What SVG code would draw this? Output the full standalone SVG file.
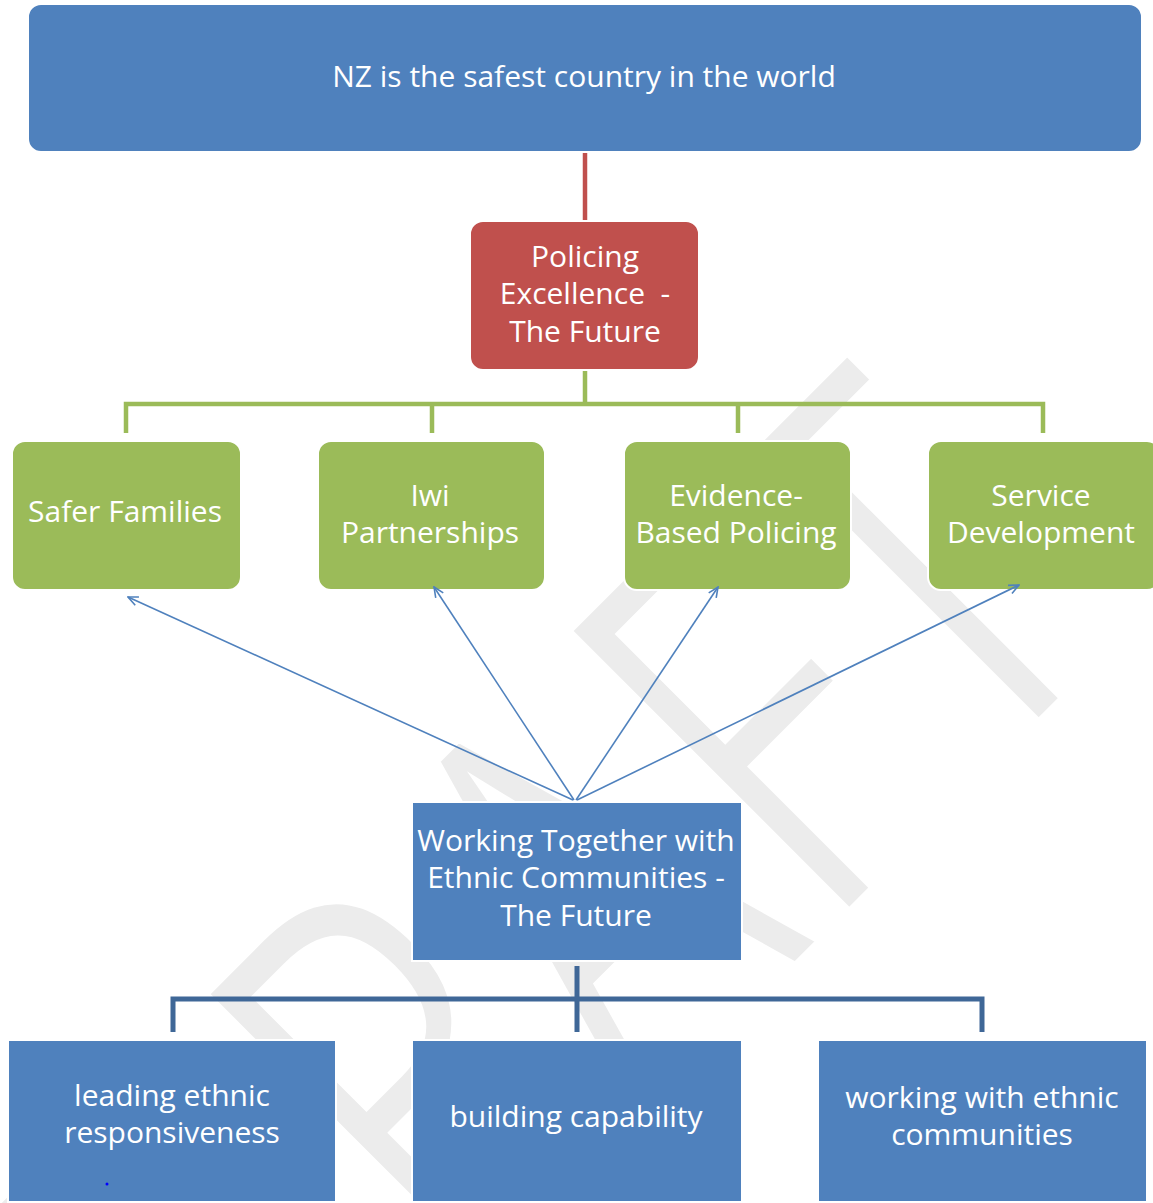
<svg xmlns="http://www.w3.org/2000/svg" width="1153" height="1203" viewBox="0 0 1153 1203">
  <style>
    .lbl { font-family: "Open Sans", "Liberation Sans", sans-serif; font-size: 30px; fill: #ffffff; text-anchor: middle; }
    .blue { fill: #4f81bd; stroke: #ffffff; stroke-width: 2; }
    .red { fill: #c0504d; stroke: #ffffff; stroke-width: 2; }
    .green { fill: #9bbb59; stroke: #ffffff; stroke-width: 2; }
    .arrow { stroke: #4f81bd; stroke-width: 1.6; fill: none; marker-end: url(#ah); }
    .wm { font-family: "Open Sans", "Liberation Sans", sans-serif; font-size: 560px; fill: #ececec; stroke: #ffffff; stroke-width: 10; }
  </style>
  <defs>
    <marker id="ah" markerUnits="userSpaceOnUse" markerWidth="12" markerHeight="12" viewBox="0 0 12 12" refX="11" refY="6" orient="auto">
      <path d="M1,1.5 L11,6 L1,10.5" fill="none" stroke="#4f81bd" stroke-width="1.6"/>
    </marker>
  </defs>
  <rect width="1153" height="1203" fill="#ffffff"/>

  <g id="watermark">
    <text class="wm" transform="translate(248,1515) rotate(-45)" x="0" y="0" textLength="1250" lengthAdjust="spacingAndGlyphs">DRAFT</text>
  </g>

  <g id="node-top">
    <rect class="blue" x="28" y="4" width="1114" height="148" rx="13"/>
    <text class="lbl" x="584" y="87">NZ is the safest country in the world</text>
  </g>

  <g id="node-policing">
    <rect class="red" x="470" y="221" width="229" height="149" rx="13"/>
    <text class="lbl" x="585" y="267">Policing</text>
    <text class="lbl" x="585" y="304" xml:space="preserve">Excellence  -</text>
    <text class="lbl" x="585" y="342">The Future</text>
  </g>

  <g id="node-safer">
    <rect class="green" x="12" y="441" width="229" height="149" rx="13"/>
    <text class="lbl" x="125" y="522">Safer Families</text>
  </g>

  <g id="node-iwi">
    <rect class="green" x="318" y="441" width="227" height="149" rx="13"/>
    <text class="lbl" x="430" y="506">Iwi</text>
    <text class="lbl" x="430" y="543">Partnerships</text>
  </g>

  <g id="node-evidence">
    <rect class="green" x="624" y="441" width="227" height="149" rx="13"/>
    <text class="lbl" x="736" y="506">Evidence-</text>
    <text class="lbl" x="736" y="543">Based Policing</text>
  </g>

  <g id="node-service">
    <rect class="green" x="928" y="441" width="232" height="149" rx="13"/>
    <text class="lbl" x="1041" y="506">Service</text>
    <text class="lbl" x="1041" y="543">Development</text>
  </g>

  <g id="node-working">
    <rect class="blue" x="412" y="802" width="330" height="159"/>
    <text class="lbl" x="576" y="851">Working Together with</text>
    <text class="lbl" x="576" y="888">Ethnic Communities -</text>
    <text class="lbl" x="576" y="926">The Future</text>
  </g>

  <g id="node-leading">
    <rect class="blue" x="8" y="1040" width="328" height="162"/>
    <text class="lbl" x="172" y="1106">leading ethnic</text>
    <text class="lbl" x="172" y="1143">responsiveness</text>
    <circle cx="107" cy="1184" r="1.5" fill="#0000ff"/>
  </g>

  <g id="node-building">
    <rect class="blue" x="412" y="1040" width="330" height="162"/>
    <text class="lbl" x="576" y="1127">building capability</text>
  </g>

  <g id="node-working-ethnic">
    <rect class="blue" x="818" y="1040" width="329" height="162"/>
    <text class="lbl" x="982" y="1108">working with ethnic</text>
    <text class="lbl" x="982" y="1145">communities</text>
  </g>

  <g id="connectors">
    <line x1="585" y1="153" x2="585" y2="220" stroke="#c0504d" stroke-width="4.5"/>
    <path d="M585,371 V404 M126,433 V404 H1043 V433 M432,404 V433 M738,404 V433" fill="none" stroke="#9bbb59" stroke-width="4.5"/>
    <path d="M577,966 V1032 M173,1032 V999 H982 V1032" fill="none" stroke="#3f6797" stroke-width="5"/>
    <line class="arrow" x1="573" y1="800" x2="128" y2="597"/>
    <line class="arrow" x1="574" y1="800" x2="434" y2="587"/>
    <line class="arrow" x1="576" y1="800" x2="718" y2="587"/>
    <line class="arrow" x1="577" y1="800" x2="1019" y2="585"/>
  </g>
</svg>
